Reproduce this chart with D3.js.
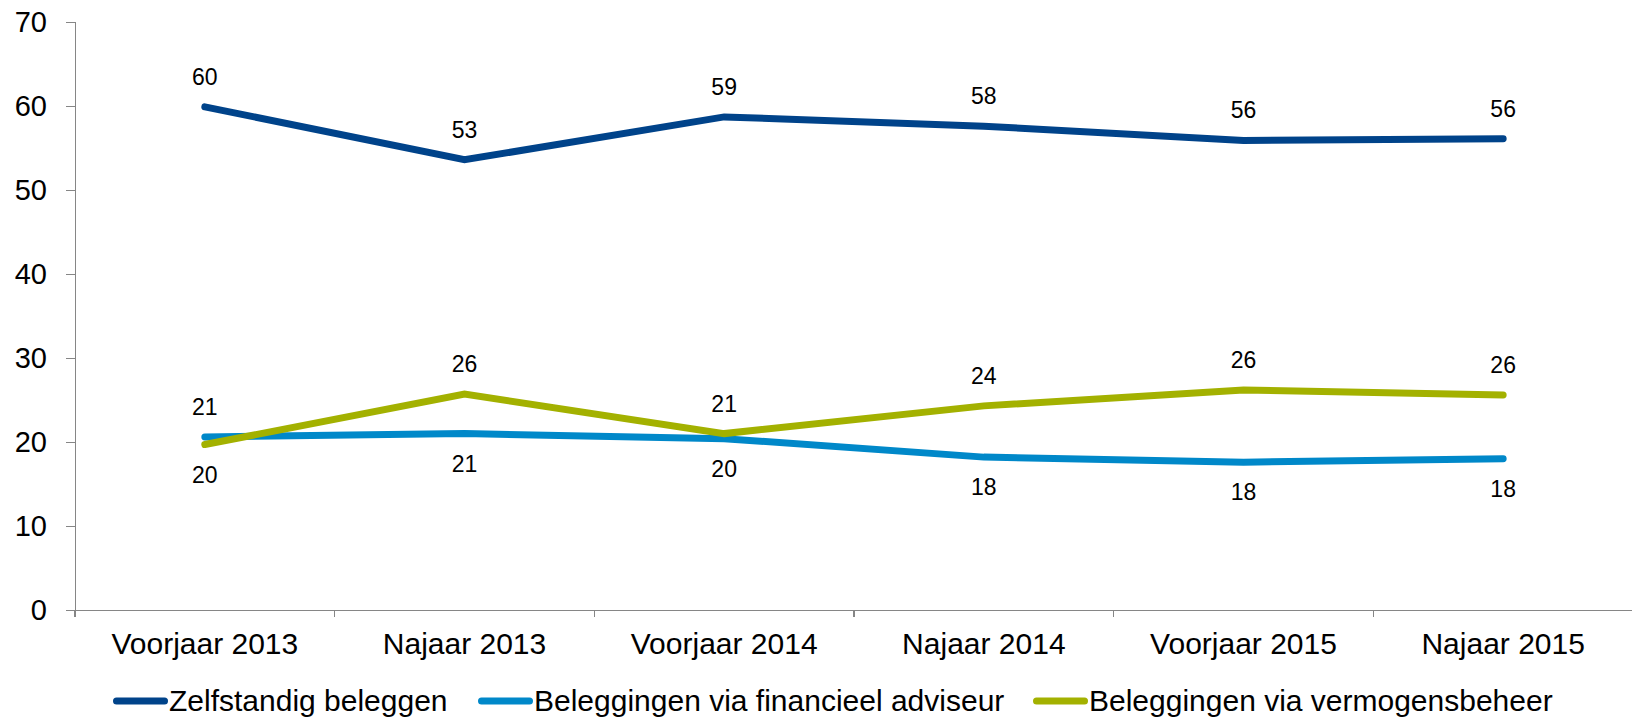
<!DOCTYPE html>
<html>
<head>
<meta charset="utf-8">
<script src="https://cdn.jsdelivr.net/npm/d3@7"></script>
<style>
    body { margin: 0; background: #fff; }
    svg { display: block; font-family: "Liberation Sans", Arial, sans-serif; }
    .axis path, .axis line { stroke: #868686; stroke-width: 1.4; shape-rendering: crispEdges; }
    .axis text { fill: #000; font-size: 30px; }
    .y.axis text { font-size: 29px; }
    .data-label { font-size: 23px; fill: #000; }
    .legend text { font-size: 30px; fill: #000; }
</style>
</head>
<body>
<div id="chart"></div>
<script>
// Chart data
var categories = ["Voorjaar 2013", "Najaar 2013", "Voorjaar 2014", "Najaar 2014", "Voorjaar 2015", "Najaar 2015"];
var seriesNames = ["Zelfstandig beleggen", "Beleggingen via financieel adviseur", "Beleggingen via vermogensbeheer"];
var seriesColors = ["#00438a", "#0088c9", "#a3b100"];

var zelfstandig = [59.9, 53.6, 58.7, 57.6, 55.9, 56.1];
var adviseur = [20.6, 21.0, 20.4, 18.2, 17.6, 18.0];
var vermogensbeheer = [19.7, 25.7, 21.0, 24.3, 26.2, 25.6];

var zelfstandigLabels = ["60", "53", "59", "58", "56", "56"];
var adviseurLabels = ["21", "21", "20", "18", "18", "18"];
var vermogensbeheerLabels = ["20", "26", "21", "24", "26", "26"];

var yTicks = [0, 10, 20, 30, 40, 50, 60, 70];

var series = [
    {name: seriesNames[0], color: seriesColors[0], values: zelfstandig, labels: zelfstandigLabels},
    {name: seriesNames[1], color: seriesColors[1], values: adviseur, labels: adviseurLabels},
    {name: seriesNames[2], color: seriesColors[2], values: vermogensbeheer, labels: vermogensbeheerLabels}
];

var width = 1632, height = 718;
var margin = {top: 22, right: -1, bottom: 108, left: 75};

var svg = d3.select("#chart").append("svg")
    .attr("width", width)
    .attr("height", height);

var x = d3.scaleBand()
    .domain(categories)
    .range([margin.left, width - margin.right]);

var y = d3.scaleLinear()
    .domain([0, 70])
    .range([height - margin.bottom, margin.top]);

// Y-Axis
var y_axis = svg.append("g")
    .attr("class", "y axis")
    .attr("transform", "translate(" + margin.left + ",0)")
    .call(d3.axisLeft(y).tickValues(yTicks).tickSize(9).tickSizeOuter(9).tickPadding(19));

// X-Axis
var x_axis = svg.append("g")
    .attr("class", "x axis")
    .attr("transform", "translate(0," + y(0) + ")")
    .call(d3.axisBottom(x).tickSize(0).tickSizeOuter(0));

x_axis.selectAll(".tick text")
    .attr("y", 44)
    .attr("dy", 0);

// tick marks between categories
x_axis.selectAll(".sep")
    .data(d3.range(categories.length + 1))
    .enter()
  .append("line")
    .attr("class", "sep")
    .attr("x1", function(i) { return margin.left + i * x.bandwidth(); })
    .attr("x2", function(i) { return margin.left + i * x.bandwidth(); })
    .attr("y1", 0)
    .attr("y2", 7);

var line = d3.line()
    .x(function(d, i) { return x(categories[i]) + x.bandwidth() / 2; })
    .y(function(d) { return y(d); });

// lines
svg.selectAll(".series-line")
    .data(series)
    .enter()
  .append("path")
    .attr("class", "series-line")
    .attr("fill", "none")
    .attr("stroke", function(d) { return d.color; })
    .attr("stroke-width", 7)
    .attr("stroke-linecap", "round")
    .attr("d", function(d) { return line(d.values); });

// data labels: below when another series sits just above, else above
function labelBelow(s, i) {
    var v = s.values[i];
    return series.some(function(o) {
        return o !== s && o.values[i] > v && o.values[i] - v < 10;
    });
}

series.forEach(function(s) {
    svg.selectAll(null)
        .data(s.values)
        .enter()
      .append("text")
        .attr("class", "data-label")
        .attr("text-anchor", "middle")
        .attr("dominant-baseline", "central")
        .attr("x", function(d, i) { return x(categories[i]) + x.bandwidth() / 2; })
        .attr("y", function(d, i) { return y(d) + (labelBelow(s, i) ? 30 : -30); })
        .text(function(d, i) { return s.labels[i]; });
});

// legend
var legendX = [113, 478, 1033];
var legend = svg.append("g").attr("class", "legend");

series.forEach(function(s, i) {
    legend.append("line")
        .attr("x1", legendX[i] + 3.5)
        .attr("x2", legendX[i] + 51.5)
        .attr("y1", 701)
        .attr("y2", 701)
        .attr("stroke", s.color)
        .attr("stroke-width", 7)
        .attr("stroke-linecap", "round");
    legend.append("text")
        .attr("x", legendX[i] + 56)
        .attr("y", 711)
        .text(s.name);
});
</script>
</body>
</html>
